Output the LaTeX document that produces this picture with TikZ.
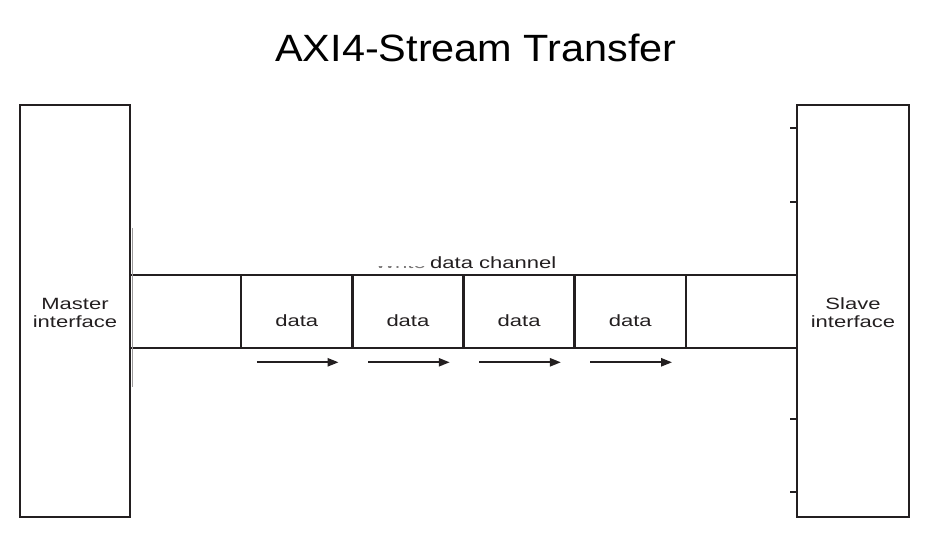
\documentclass[tikz,border=0pt]{standalone}
\usepackage{fontspec}
\setmainfont{Liberation Sans}
\usetikzlibrary{arrows.meta}
\definecolor{ink}{HTML}{231F20}
\begin{document}
\begin{tikzpicture}[x=1pt,y=-1pt,
  ifbox/.style={draw=ink, line width=2.4pt, inner sep=0pt},
  cell/.style={draw=ink, line width=2.6pt, inner sep=0pt,
    minimum width=111.17pt, minimum height=73pt},
  lbl/.style={inner sep=0pt, font=\fontsize{16.3}{19}\selectfont, text=ink},
  flow/.style={draw=ink, line width=2.2pt, -{Triangle[length=11pt,width=8pt]}},
  tick/.style={draw=ink, line width=2.2pt}]
\useasboundingbox (0,0) rectangle (935,534);

% title
\node (title) [inner sep=0pt, anchor=base] at (476,62)
  {\scalebox{1.09}[1]{\fontsize{38}{44}\selectfont AXI4-Stream Transfer}};

% interface boxes
\node (master) [ifbox, minimum width=110.5pt, minimum height=412pt] at (75,311) {};
\node (slave) [ifbox, minimum width=112pt, minimum height=412pt] at (853,311) {};
\node (mlabel) [lbl] at ([shift={(0,4)}]master.center)
  {\scalebox{1.35}[1]{\begin{tabular}{@{}c@{}}Master\\[-1pt]interface\end{tabular}}};
\node (slabel) [lbl] at ([shift={(0,4)}]slave.center)
  {\scalebox{1.35}[1]{\begin{tabular}{@{}c@{}}Slave\\[-1pt]interface\end{tabular}}};

% channel cells
\foreach \i in {0,...,5}{
  \node (c\i) [cell] at ({130+55.585+\i*111.17},311.5) {};
}
\foreach \i in {1,...,4}{
  \node (d\i) [lbl, anchor=base] at ([shift={(0,15.5)}]c\i.center)
    {\scalebox{1.35}[1]{data}};
  \draw[flow] ([shift={(17,13)}]c\i.south west) -- ([shift={(-15,13)}]c\i.south east);
}

% channel label (top of "Write" cut off)
\node (chan) [lbl, anchor=base west] at (430,269)
  {\scalebox{1.35}[1]{data channel}};
\begin{scope}
  \clip (368,266.3) rectangle (427,272);
  \node (write) [lbl, anchor=base east, text=ink!60] at (426,269)
    {\scalebox{1.35}[1]{Write}};
\end{scope}

% ticks on slave interface
\foreach \t in {24,98,315,388}{
  \draw[tick] ([shift={(0,\t)}]slave.north west) -- ++(-6,0);
}
% slight double edge on master side
\draw[draw=ink!45, line width=1pt] ([shift={(1.3,124)}]master.north east) -- ([shift={(1.3,283)}]master.north east);
\end{tikzpicture}
\end{document}
